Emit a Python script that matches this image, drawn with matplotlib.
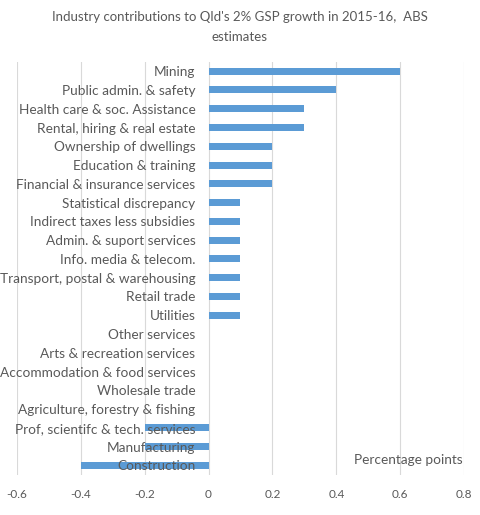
import numpy as np
import matplotlib.pyplot as plt

industries = [
    "Mining",
    "Public admin. & safety",
    "Health care & soc. Assistance",
    "Rental, hiring & real estate",
    "Ownership of dwellings",
    "Education & training",
    "Financial & insurance services",
    "Statistical discrepancy",
    "Indirect taxes less subsidies",
    "Admin. & suport services",
    "Info. media & telecom.",
    "Transport, postal & warehousing",
    "Retail trade",
    "Utilities",
    "Other services",
    "Arts & recreation services",
    "Accommodation & food services",
    "Wholesale trade",
    "Agriculture, forestry & fishing",
    "Prof, scientifc & tech. services",
    "Manufacturing",
    "Construction",
]
contrib = [0.6, 0.4, 0.3, 0.3, 0.2, 0.2, 0.2, 0.1, 0.1, 0.1, 0.1, 0.1, 0.1, 0.1,
           0, 0, 0, 0, 0, -0.2, -0.2, -0.4]
xticks = [-0.6, -0.4, -0.2, 0, 0.2, 0.4, 0.6, 0.8]

plt.rcParams['font.family'] = ['Lato', 'DejaVu Sans']
grey = '#595959'

fig = plt.figure(figsize=(4.8, 5.15), dpi=100)
ax = fig.add_axes([0.035, 0.078, 0.932, 0.802])

y = np.arange(len(industries))
ax.barh(y, contrib, height=0.37, color='#5B9BD5', zorder=2)
ax.set_ylim(len(industries) - 0.5, -0.5)
ax.set_xlim(-0.6, 0.8)
ax.set_xticks(xticks)
ax.set_xticklabels([f"{t:g}" for t in xticks])

ax.set_yticks(y)
ax.set_yticklabels(industries)
ax.spines['left'].set_position(('data', 0))
for s in ax.spines.values():
    s.set_visible(False)
ax.tick_params(axis='y', length=0, pad=9.5, labelsize=9.8, labelcolor=grey)
ax.tick_params(axis='x', length=0, pad=10, labelsize=8.5, labelcolor=grey)

ax.grid(axis='x', color='#d9d9d9', linewidth=0.8)
ax.set_axisbelow(True)
ax.yaxis.set_zorder(3)

ax.text(0.795, len(industries) - 1.3, "Percentage points", ha='right', va='center',
        fontsize=9.8, color=grey)

fig.suptitle("Industry contributions to Qld's 2% GSP growth in 2015-16,  ABS\nestimates",
             fontsize=9.5, color=grey, y=0.978, linespacing=1.75)

fig.savefig("out.png", dpi=100)
